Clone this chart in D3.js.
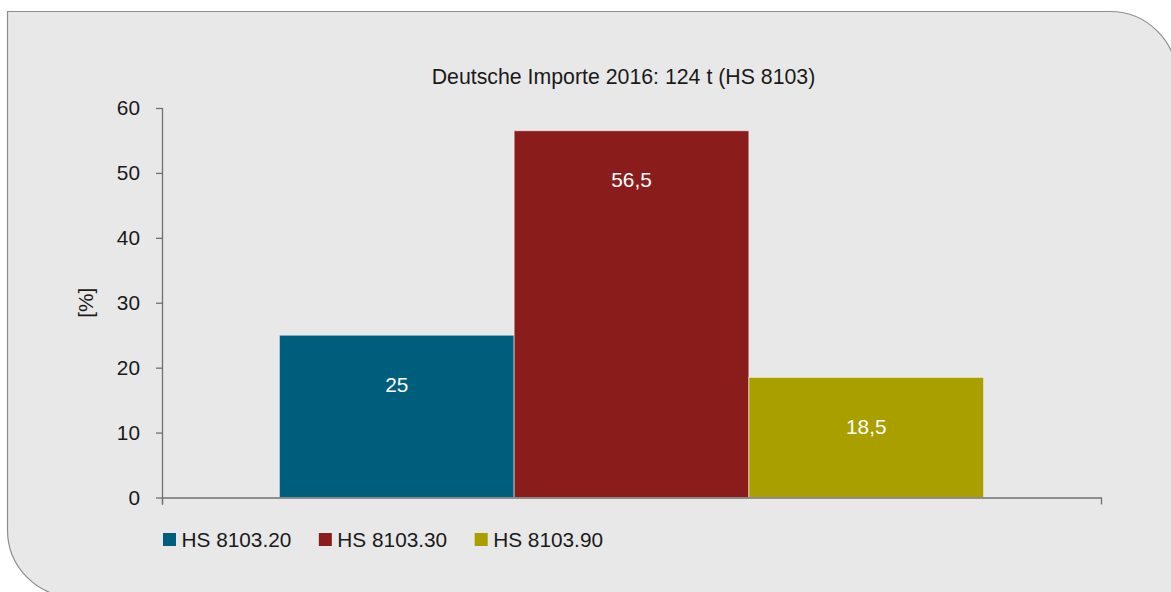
<!DOCTYPE html>
<html>
<head>
<meta charset="utf-8">
<script src="https://cdn.jsdelivr.net/npm/d3@7"></script>
<style>
  html, body { margin: 0; padding: 0; background: #ffffff; }
  svg { display: block; font-family: "Liberation Sans", Arial, sans-serif; }
</style>
</head>
<body>
<svg id="chart" width="1171" height="592"></svg>
<script>
// Import shares by HS subheading, 2016
const title = "Deutsche Importe 2016: 124 t (HS 8103)";
const categories = ["2016"];
const seriesNames = ["HS 8103.20", "HS 8103.30", "HS 8103.90"];
const seriesValues = [25, 56.5, 18.5];
const seriesLabels = ["25", "56,5", "18,5"];
const seriesColors = ["#005e7d", "#8a1d1c", "#a9a000"];
const yTicks = [0, 10, 20, 30, 40, 50, 60];
const yTitle = "[%]";

const svg = d3.select("#chart");
const fontSize = 20.8;
const titleSize = 21.3;

// Panel: square top-left, rounded top-right and bottom-left
const px0 = 7.5, py0 = 11.5, px1 = 1177, py1 = 597, r = 67;
const panel = d3.path();
panel.moveTo(px0, py0);
panel.lineTo(px1 - r, py0);
panel.arcTo(px1, py0, px1, py0 + r, r);
panel.lineTo(px1, py1);
panel.lineTo(px0 + r, py1);
panel.arcTo(px0, py1, px0, py1 - r, r);
panel.closePath();
svg.append("path")
  .attr("d", panel.toString())
  .attr("fill", "#e8e8e8")
  .attr("stroke", "#8e8e8e")
  .attr("stroke-width", 1.2);

// Plot area
const plot = { left: 162, right: 1101, top: 108, bottom: 497.5 };

const y = d3.scaleLinear().domain([0, 60]).range([plot.bottom, plot.top]);
const x0 = d3.scaleBand().domain(categories).range([plot.left, plot.right])
  .paddingInner(0).paddingOuter(1 / 6);
const x1 = d3.scaleBand().domain(seriesNames).range([0, x0.bandwidth()]).padding(0);

// Title
svg.append("text")
  .attr("x", 623.5).attr("y", 84)
  .attr("text-anchor", "middle")
  .attr("font-size", titleSize)
  .attr("fill", "#1a1a1a")
  .text(title);

// Bars
const rows = seriesNames.map((name, i) => ({
  name, value: seriesValues[i], label: seriesLabels[i], color: seriesColors[i], cat: categories[0]
}));

const barG = svg.append("g");
barG.selectAll("rect").data(rows).join("rect")
  .attr("x", d => x0(d.cat) + x1(d.name))
  .attr("y", d => y(d.value))
  .attr("width", x1.bandwidth())
  .attr("height", d => y(0) - y(d.value))
  .attr("fill", d => d.color)
  .attr("stroke", "#ffffff")
  .attr("stroke-opacity", 0.55)
  .attr("stroke-width", 1);

// Value labels inside the bars
barG.selectAll("text").data(rows).join("text")
  .attr("x", d => x0(d.cat) + x1(d.name) + x1.bandwidth() / 2)
  .attr("y", d => y(d.value) + 56.5)
  .attr("text-anchor", "middle")
  .attr("font-size", fontSize)
  .attr("fill", "#ffffff")
  .text(d => d.label);

// Y axis
const yAxis = svg.append("g")
  .attr("transform", `translate(${plot.left},0)`)
  .call(d3.axisLeft(y).tickValues(yTicks).tickSize(6).tickSizeOuter(0).tickPadding(16));
yAxis.select(".domain").attr("stroke", "#707070").attr("stroke-width", 1.3)
  .attr("d", `M0.5,${plot.top}V${plot.bottom + 7}`);
yAxis.selectAll(".tick line").attr("stroke", "#707070").attr("stroke-width", 1.3);
yAxis.selectAll(".tick text")
  .attr("font-size", fontSize)
  .attr("font-family", "Liberation Sans, Arial, sans-serif")
  .attr("fill", "#1a1a1a");

// X axis: category boundaries only
const xEdge = d3.scaleLinear().domain([0, 1]).range([plot.left, plot.right]);
const xAxis = svg.append("g")
  .attr("transform", `translate(0,${plot.bottom})`)
  .call(d3.axisBottom(xEdge).tickValues([0, 1]).tickFormat("").tickSize(7).tickSizeOuter(0));
xAxis.select(".domain").attr("stroke", "#707070").attr("stroke-width", 1.3);
xAxis.selectAll(".tick line").attr("stroke", "#707070").attr("stroke-width", 1.3);

// Y axis title
svg.append("text")
  .attr("transform", `translate(93,${(plot.top + plot.bottom) / 2}) rotate(-90)`)
  .attr("text-anchor", "middle")
  .attr("font-size", fontSize)
  .attr("fill", "#1a1a1a")
  .text(yTitle);

// Legend
const legend = svg.append("g");
let lx = 163;
rows.forEach(d => {
  const g = legend.append("g").attr("transform", `translate(${lx},0)`);
  g.append("rect").attr("x", 0).attr("y", 533).attr("width", 13).attr("height", 13)
    .attr("fill", d.color);
  const t = g.append("text").attr("x", 18.5).attr("y", 546.5)
    .attr("font-size", fontSize).attr("fill", "#1a1a1a").text(d.name);
  lx += 18.5 + t.node().getComputedTextLength() + 27.5;
});
</script>
</body>
</html>
